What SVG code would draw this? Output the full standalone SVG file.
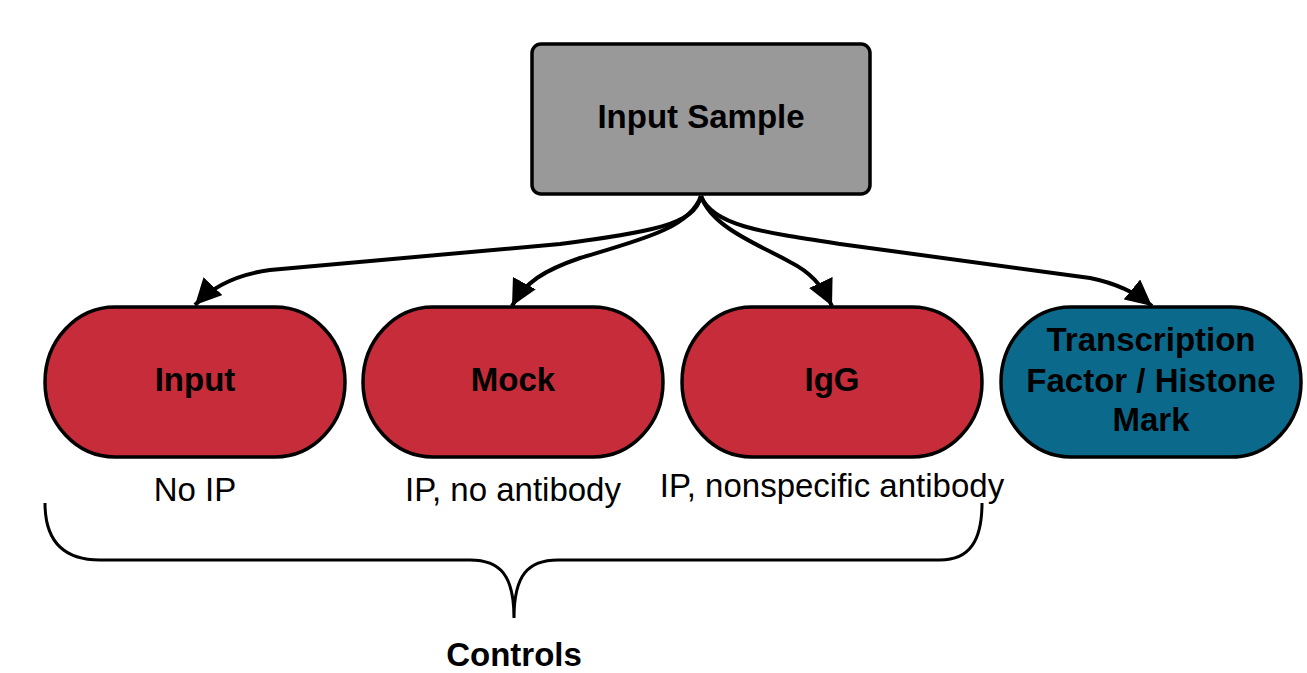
<svg xmlns="http://www.w3.org/2000/svg" width="1307" height="673" viewBox="0 0 1307 673">
<style>
.node{stroke:#000;stroke-width:3.5}
.red{fill:#C72C3A}
.teal{fill:#0B6A8C}
.gray{fill:#999999}
.b{font-family:"Liberation Sans",Arial,sans-serif;font-weight:bold;font-size:33px;fill:#000;text-anchor:middle}
.r{font-family:"Liberation Sans",Arial,sans-serif;font-size:33px;fill:#000;text-anchor:middle}
.edge{fill:none;stroke:#000;stroke-width:4}
</style>
<defs>
<marker id="arr" markerUnits="userSpaceOnUse" markerWidth="28" markerHeight="26" refX="26" refY="13" orient="auto">
<path d="M0,0 L26,13 L0,26 Z" fill="#000"/>
</marker>
</defs>
<g id="connectors">
<path class="edge" marker-end="url(#arr)" d="M701,196 C695,225 650,232 560,244 L270,270 C240,274 215,284 195,305"/>
<path class="edge" marker-end="url(#arr)" d="M701,196 C690,228 640,240 580,258 C545,270 525,282 512,306"/>
<path class="edge" marker-end="url(#arr)" d="M701,196 C712,228 760,245 790,262 C810,272 822,285 832,306"/>
<path class="edge" marker-end="url(#arr)" d="M701,196 C712,225 760,232 840,244 L1090,278 C1115,283 1135,292 1152,306"/>
</g>
<g id="input-sample">
<rect class="node gray" x="532" y="44" width="338" height="150" rx="9"/>
<text class="b" x="701" y="128">Input Sample</text>
</g>
<g id="input">
<rect class="node red" x="45" y="307" width="300" height="150" rx="70" ry="75"/>
<text class="b" x="195" y="391">Input</text>
</g>
<g id="mock">
<rect class="node red" x="363" y="307" width="300" height="150" rx="70" ry="75"/>
<text class="b" x="513" y="391">Mock</text>
</g>
<g id="igg">
<rect class="node red" x="682" y="307" width="300" height="150" rx="70" ry="75"/>
<text class="b" x="832" y="391">IgG</text>
</g>
<g id="tf">
<rect class="node teal" x="1001" y="307" width="300" height="150" rx="70" ry="75"/>
<text class="b" x="1151" y="351">Transcription</text>
<text class="b" x="1151" y="392">Factor / Histone</text>
<text class="b" x="1151" y="431">Mark</text>
</g>
<g id="labels">
<text class="r" x="195" y="501">No IP</text>
<text class="r" x="513" y="501">IP, no antibody</text>
<text class="r" x="832" y="497">IP, nonspecific antibody</text>
</g>
<g id="controls">
<path d="M45,503 C45,540 62,560 100,560 L470,560 C500,560 514,575 514,618 C514,575 528,560 558,560 L940,560 C970,560 982,540 982,503" fill="none" stroke="#000" stroke-width="3"/>
<text class="b" x="514" y="666">Controls</text>
</g>
</svg>
